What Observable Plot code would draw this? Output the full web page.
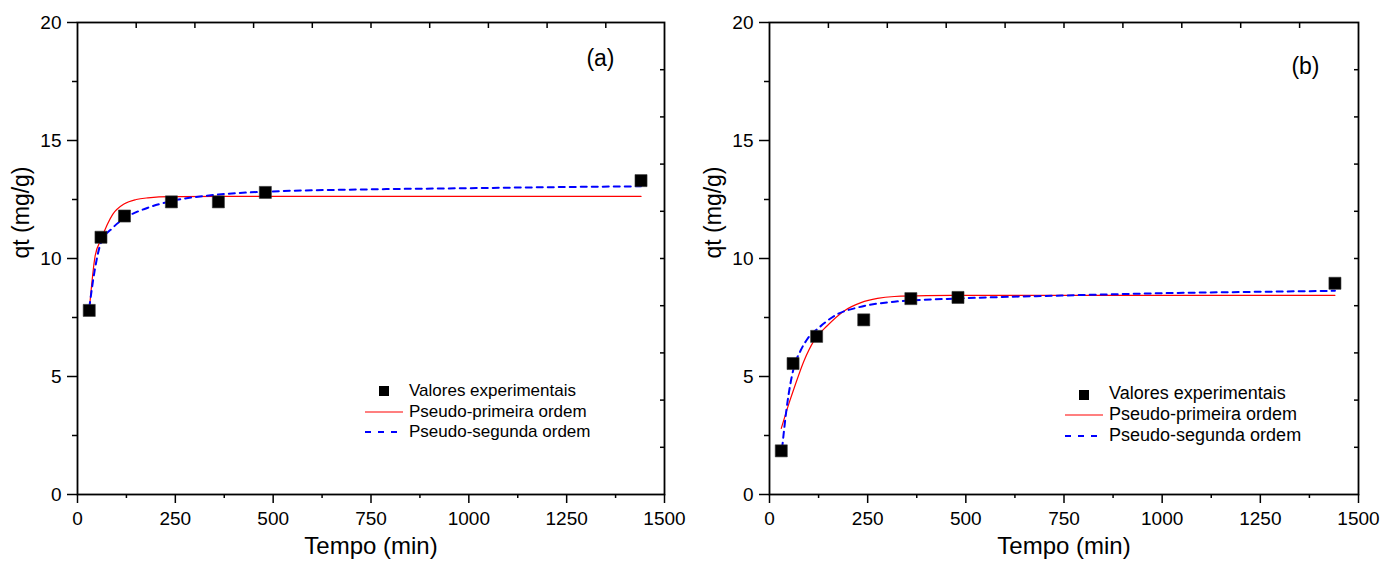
<!DOCTYPE html>
<html>
<head>
<meta charset="utf-8">
<script src="https://cdn.jsdelivr.net/npm/d3@7"></script>
<script src="https://cdn.jsdelivr.net/npm/@observablehq/plot@0.6"></script>
<style>
  html, body { margin: 0; padding: 0; background: #fff; }
  #wrap { position: relative; width: 1383px; height: 569px; font-family: "Liberation Sans", Arial, sans-serif; }
  .panel { position: absolute; top: 0; }
  .legend { position: absolute; font-family: "Liberation Sans", Arial, sans-serif; color: #000; }
  .legend .row { position: absolute; white-space: nowrap; }
</style>
</head>
<body>
<div id="wrap">
  <div id="pa" class="panel" style="left:0px"></div>
  <div id="pb" class="panel" style="left:691px"></div>
</div>
<script>
// ---- Data ----
const tempo = [30, 60, 120, 240, 360, 480, 1440];
const qtA = [7.8, 10.9, 11.8, 12.4, 12.4, 12.8, 13.3];
const qtB = [1.85, 5.55, 6.7, 7.4, 8.3, 8.35, 8.95];

// curves (panel a)
const tA_pfo = [30, 45, 60, 90, 120, 150, 180, 240, 360, 480, 750, 1000, 1250, 1440];
const qA_pfo = [7.8, 10.1, 10.8, 11.87, 12.32, 12.5, 12.57, 12.62, 12.63, 12.63, 12.63, 12.63, 12.63, 12.63];
const tA_pso = [30, 45, 60, 90, 120, 180, 240, 360, 480, 750, 1000, 1250, 1440];
const qA_pso = [7.9, 9.6, 10.67, 11.3, 11.7, 12.15, 12.43, 12.71, 12.83, 12.93, 12.98, 13.03, 13.06];

// curves (panel b)
const tB_pfo = [30, 49, 62, 88, 113, 147, 190, 233, 275, 318, 400, 500, 750, 1000, 1440];
const qB_pfo = [2.8, 3.83, 4.47, 5.67, 6.51, 7.15, 7.78, 8.13, 8.31, 8.39, 8.43, 8.44, 8.44, 8.44, 8.44];
const tB_pso = [32, 44, 62, 79, 96, 126, 173, 224, 318, 488, 744, 1000, 1250, 1440];
const qB_pso = [1.94, 3.7, 5.38, 6.09, 6.58, 7.07, 7.64, 7.92, 8.17, 8.31, 8.43, 8.53, 8.59, 8.63];

const xMajor = [0, 250, 500, 750, 1000, 1250, 1500];
const xMinor = [125, 375, 625, 875, 1125, 1375];
const xTop = [150, 300, 450, 600, 750, 900, 1050, 1200, 1350];
const yMajor = [0, 5, 10, 15, 20];
const yMinor = [2.5, 7.5, 12.5, 17.5];
const yRight = [2, 4, 6, 8, 10, 12, 14, 16, 18];

const xTitle = "Tempo (min)";
const yTitle = "qt (mg/g)";
const legendLabels = ["Valores experimentais", "Pseudo-primeira ordem", "Pseudo-segunda ordem"];

const zip = (xs, ys) => xs.map((x, i) => ({x, y: ys[i]}));

function panel({pts, pfo, pso, tag, width, mL, mR, tagDx, tagDy}) {
  return Plot.plot({
    width, height: 569,
    marginLeft: mL, marginRight: mR, marginTop: 22, marginBottom: 75,
    style: {fontFamily: "'Liberation Sans', Arial, sans-serif", fontSize: "19px", color: "#000", background: "#fff"},
    x: {domain: [0, 1500]},
    y: {domain: [0, 20]},
    marks: [
      Plot.axisX({anchor: "bottom", ticks: xMajor, tickSize: 9, tickPadding: 8, tickFormat: d => String(d), label: null, strokeWidth: 1.5, fontSize: 19}),
      Plot.axisX({anchor: "bottom", ticks: xMinor, tickSize: 4, text: null, label: null, strokeWidth: 1.5}),
      Plot.axisX({anchor: "top", ticks: xTop, tickSize: -5, text: null, label: null, strokeWidth: 1.5}),
      Plot.axisY({anchor: "left", ticks: yMajor, tickSize: 10, tickPadding: 6, label: null, strokeWidth: 1.5, fontSize: 19}),
      Plot.axisY({anchor: "left", ticks: yMinor, tickSize: 5, text: null, label: null, strokeWidth: 1.5}),
      Plot.axisY({anchor: "right", ticks: yRight, tickSize: -5, text: null, label: null, strokeWidth: 1.5}),
      Plot.frame({stroke: "#000", strokeWidth: 1.8}),
      Plot.line(pfo, {x: "x", y: "y", stroke: "#ff0000", strokeWidth: 1.2, curve: "monotone-x"}),
      Plot.line(pso, {x: "x", y: "y", stroke: "#0000ff", strokeWidth: 2, strokeDasharray: "6,5", curve: "monotone-x"}),
      Plot.dot(pts, {x: "x", y: "y", symbol: "square", r: 6.8, fill: "#000", stroke: "#333", strokeWidth: 0.6}),
      Plot.text([tag], {text: d => d, frameAnchor: "top-right", dx: tagDx, dy: tagDy, fontSize: 23}),
      Plot.text([xTitle], {text: d => d, frameAnchor: "bottom", dy: 59, fontSize: 24}),
      Plot.text([yTitle], {text: d => d, frameAnchor: "left", dx: -56, rotate: -90, fontSize: 23})
    ]
  });
}

document.getElementById("pa").appendChild(panel({
  pts: zip(tempo, qtA), pfo: zip(tA_pfo, qA_pfo), pso: zip(tA_pso, qA_pso),
  tag: "(a)", width: 691, mL: 77, mR: 27, tagDx: -50, tagDy: 27
}));
document.getElementById("pb").appendChild(panel({
  pts: zip(tempo, qtB), pfo: zip(tB_pfo, qB_pfo), pso: zip(tB_pso, qB_pso),
  tag: "(b)", width: 692, mL: 78, mR: 25, tagDx: -39, tagDy: 35
}));

// ---- Legends (HTML overlays) ----
function legend(left, top, fontSize, gap) {
  const wrap = document.getElementById("wrap");
  const lg = document.createElement("div");
  lg.className = "legend";
  lg.style.left = left + "px";
  lg.style.top = top + "px";
  lg.style.fontSize = fontSize + "px";
  const swatches = [
    `<svg width="40" height="12" style="vertical-align:middle"><rect x="14" y="1" width="10" height="10" fill="#000"/></svg>`,
    `<svg width="40" height="12" style="vertical-align:middle"><line x1="0" x2="38" y1="6" y2="6" stroke="#ff0000" stroke-width="1.2"/></svg>`,
    `<svg width="40" height="12" style="vertical-align:middle"><line x1="0" x2="38" y1="6" y2="6" stroke="#0000ff" stroke-width="2" stroke-dasharray="6,7"/></svg>`
  ];
  legendLabels.forEach((lab, i) => {
    const row = document.createElement("div");
    row.className = "row";
    row.style.top = (i * gap) + "px";
    row.style.left = "0px";
    row.style.height = "20px";
    row.style.lineHeight = "20px";
    row.innerHTML = `<span style="display:inline-block;width:44px;vertical-align:middle">${swatches[i]}</span><span style="vertical-align:middle">${lab}</span>`;
    lg.appendChild(row);
  });
  wrap.appendChild(lg);
}
legend(365, 380, 17, 20.5);
legend(1065, 382, 18, 20.8);
</script>
</body>
</html>
